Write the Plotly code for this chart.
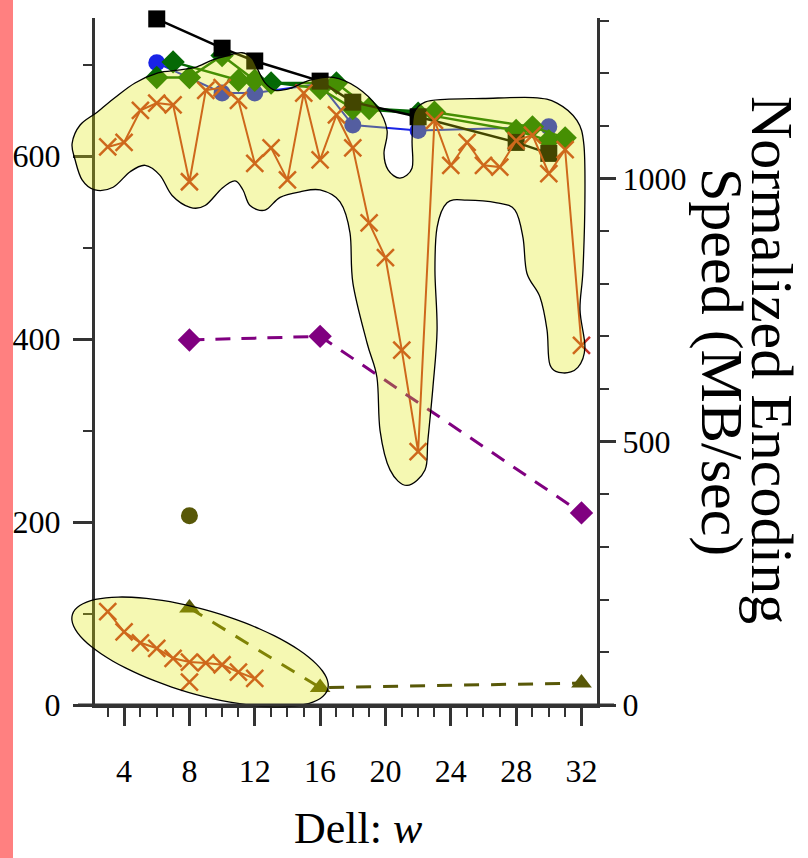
import numpy as np
import plotly.graph_objects as go

# ---------------- data ----------------
black_w = [6, 10, 12, 16, 18, 22, 28, 30]
black_v = [750, 718, 704, 682, 659, 643, 615, 603]

blue_w = [6, 10, 12, 16, 18, 22, 30]
blue_v = [702, 669, 669, 679, 634, 628, 632]

greenA_w = [6, 8, 10, 12, 16, 18, 22, 28, 30]
greenA_v = [686, 686, 710, 683, 674, 652, 647, 628, 617]
greenB_w = [7, 11, 13, 17, 19, 23, 29, 31]
greenB_v = [703, 683, 680, 680, 652, 648, 632, 620]

orange_top_w = list(range(3, 33))
orange_top_v = [610, 615, 650, 658, 656, 572, 672, 675, 661, 592,
                609, 574, 669, 596, 645, 609, 527, 489, 388, 277,
                639, 590, 615, 590, 588, 617, 623, 581, 607, 393]

orange_low_w = [3, 4, 5, 6, 7, 8, 9, 10, 11, 12]
orange_low_v = [102, 80, 68, 62, 51, 47, 46, 44, 36, 29]
orange_extra_w = [8]
orange_extra_v = [25]

purple_w = [8, 16, 32]
purple_v = [399, 403, 210]

olive_circle_w = [8]
olive_circle_v = [207]

olive_tri_w = [8, 16, 32]
olive_tri_v = [106, 19, 24]

x_ticks = [4, 8, 12, 16, 20, 24, 28, 32]

# highlight outlines (data coordinates, left axis)
hl_top_w = [0.82, 1.31, 2.35, 3.45, 4.67, 6.08, 7.30, 8.35, 9.39, 10.36, 11.22, 11.83, 12.2, 12.63,
            13.24, 14.16, 15.38, 16.79, 18.26, 19.48, 20.10, 19.91, 20.16, 20.89, 21.63, 21.63,
            21.75, 22.42, 23.64, 25.97, 29.03, 30.50, 31.72, 32.15, 32.21, 32.09, 31.91, 32.21,
            31.78, 30.87, 30.07, 29.89, 29.46, 28.66, 28.42, 27.93, 26.83, 24.99, 23.77, 23.16,
            23.03, 23.16, 22.91, 22.60, 22.42, 21.32, 20.28, 19.67, 19.48, 18.87, 18.01, 17.83,
            17.22, 16.00, 14.77, 13.55, 12.63, 11.71, 11.28, 10.79, 10.00, 8.96, 8.04, 6.94,
            6.20, 5.29, 4.37, 3.33, 2.22, 1.43, 1.00]
hl_top_v = [614, 634, 648, 664, 680, 691, 694, 697, 705, 710, 713, 707, 694, 680,
            672, 674, 683, 686, 675, 654, 628, 603, 585, 576, 587, 617,
            647, 659, 662, 663, 664, 658, 639, 612, 552, 475, 432, 391,
            369, 363, 372, 410, 446, 472, 511, 541, 549, 552, 549, 522,
            475, 410, 348, 290, 257, 240, 257, 300, 358, 396, 461, 516,
            550, 563, 561, 555, 541, 546, 563, 573, 565, 546, 544, 557,
            579, 590, 583, 566, 563, 574, 596]
hl_ell_center = (8.65, 58)

# ---------------- geometry ----------------
W, H = 808, 858
ML, MR, MT, MB = 95, 211, 18, 153
PW, PH = W - ML - MR, H - MT - MB
X_RANGE = [2.22, 32.95]
Y_RANGE = [0, 751]
Y2_RANGE = [0, 1305]


def to_px(w, v):
    px = ML + (w - X_RANGE[0]) / (X_RANGE[1] - X_RANGE[0]) * PW
    py = MT + PH - (v - Y_RANGE[0]) / (Y_RANGE[1] - Y_RANGE[0]) * PH
    return px, py


def px_to_paper(px, py):
    return (px - ML) / PW, (MT + PH - py) / PH


def smooth_closed_path(pts):
    n = len(pts)
    P = [np.array(p, dtype=float) for p in pts]
    pp = [px_to_paper(*p) for p in P]
    s = "M %.5f,%.5f" % pp[0]
    for i in range(n):
        p0, p1, p2, p3 = P[i - 1], P[i], P[(i + 1) % n], P[(i + 2) % n]
        c1 = p1 + (p2 - p0) / 6.0
        c2 = p2 - (p3 - p1) / 6.0
        a = px_to_paper(*c1)
        b = px_to_paper(*c2)
        c = px_to_paper(*p2)
        s += " C %.5f,%.5f %.5f,%.5f %.5f,%.5f" % (a + b + c)
    return s + " Z"


top_pts = [to_px(w, v) for w, v in zip(hl_top_w, hl_top_v)]
top_path = smooth_closed_path(top_pts)

cx, cy = to_px(*hl_ell_center)
ang = np.deg2rad(16.3)
t = np.linspace(0, 2 * np.pi, 48, endpoint=False)
ea, eb = 133, 42
ell_pts = [(cx + ea * np.cos(tt) * np.cos(ang) - eb * np.sin(tt) * np.sin(ang),
            cy + ea * np.cos(tt) * np.sin(ang) + eb * np.sin(tt) * np.cos(ang)) for tt in t]
ell_path = smooth_closed_path(ell_pts)

# ---------------- styles ----------------
FONT = "Liberation Serif, Times New Roman, serif"
ORANGE = "rgb(200,50,40)"
GREEN = "rgb(5,105,5)"
BLUE = "rgb(25,35,230)"
PURPLE = "rgb(128,0,128)"
OLIVE = "rgb(88,88,8)"
AX = "#333333"
HL_FILL = "rgba(223,232,0,0.30)"

fig = go.Figure()


def line_trace(x, y, color, symbol, size, width=2.5, dash=None, mode="lines+markers"):
    fig.add_trace(go.Scatter(
        x=x, y=y, mode=mode, cliponaxis=False,
        line=dict(color=color, width=width, dash=dash),
        marker=dict(symbol=symbol, size=size, color=color, line=dict(width=0)),
        showlegend=False, hoverinfo="skip"))


line_trace(blue_w, blue_v, BLUE, "circle", 17, width=2)
line_trace(greenB_w, greenB_v, GREEN, "diamond", 18, width=2.5)
line_trace(greenA_w, greenA_v, GREEN, "diamond", 18, width=2.5)
line_trace(black_w, black_v, "black", "square", 17, width=2.5)

for xs, ys, mode in [(orange_top_w, orange_top_v, "lines+markers"),
                     (orange_low_w, orange_low_v, "lines+markers"),
                     (orange_extra_w, orange_extra_v, "markers")]:
    fig.add_trace(go.Scatter(
        x=xs, y=ys, mode=mode, cliponaxis=False,
        line=dict(color=ORANGE, width=2),
        marker=dict(symbol="x-thin", size=17, color=ORANGE, line=dict(width=2.5, color=ORANGE)),
        showlegend=False, hoverinfo="skip"))

line_trace(purple_w, purple_v, PURPLE, "diamond", 18, width=3, dash="15px,11px")
line_trace(olive_tri_w, olive_tri_v, OLIVE, "triangle-up", 18, width=3, dash="15px,12px")
line_trace(olive_circle_w, olive_circle_v, OLIVE, "circle", 17, mode="markers")

# invisible trace so the right axis renders
fig.add_trace(go.Scatter(x=[X_RANGE[0]], y=[0], yaxis="y2", mode="markers",
                         marker=dict(opacity=0), showlegend=False, hoverinfo="skip"))

tickfont = dict(family=FONT, size=32, color="black")

fig.update_layout(
    width=W, height=H,
    margin=dict(l=ML, r=MR, t=MT, b=MB),
    paper_bgcolor="white", plot_bgcolor="white",
    showlegend=False,
    xaxis=dict(range=X_RANGE, tickvals=x_ticks, ticks="outside", ticklen=18, tickwidth=2.5,
               tickcolor=AX, showline=True, linewidth=3, linecolor=AX, showgrid=False,
               zeroline=False, tickfont=tickfont, ticklabelstandoff=18,
               minor=dict(dtick=1, tick0=0, ticks="outside", ticklen=9, tickwidth=2, tickcolor=AX)),
    yaxis=dict(range=Y_RANGE, tick0=0, dtick=200, ticks="outside", ticklen=19, tickwidth=2.5,
               tickcolor=AX, showline=True, linewidth=3, linecolor=AX, showgrid=False,
               zeroline=False, tickfont=tickfont, ticklabelstandoff=6,
               minor=dict(dtick=100, tick0=0, ticks="outside", ticklen=9, tickwidth=2, tickcolor=AX)),
    yaxis2=dict(range=Y2_RANGE, overlaying="y", side="right", tick0=0, dtick=500,
                ticks="outside", ticklen=16, tickwidth=2.5, tickcolor=AX, showline=True,
                linewidth=3, linecolor=AX, showgrid=False, zeroline=False, tickfont=tickfont,
                ticklabelstandoff=0,
                minor=dict(dtick=100, tick0=0, ticks="outside", ticklen=9, tickwidth=2, tickcolor=AX)),
)

shapes = [
    dict(type="path", xref="paper", yref="paper", path=top_path, fillcolor=HL_FILL,
         line=dict(color="black", width=1.3), layer="above"),
    dict(type="path", xref="paper", yref="paper", path=ell_path, fillcolor=HL_FILL,
         line=dict(color="black", width=1.3), layer="above"),
    dict(type="line", xref="paper", yref="paper", x0=(78 - ML) / PW, x1=(614 - ML) / PW,
         y0=0, y1=0, line=dict(color=AX, width=3), layer="above"),
    dict(type="rect", xref="paper", yref="paper", x0=-ML / PW, x1=(13 - ML) / PW,
         y0=(MT + PH - H) / PH, y1=(MT + PH) / PH, fillcolor="rgb(255,128,128)",
         line=dict(width=0), layer="above"),
]
fig.update_layout(shapes=shapes)

fig.add_annotation(text="Dell: <i>w</i>", xref="paper", yref="paper",
                   x=(358 - ML) / PW, y=(MT + PH - 828) / PH, showarrow=False,
                   font=dict(family=FONT, size=44, color="black"), xanchor="center", yanchor="middle")
fig.add_annotation(text="Normalized Encoding", xref="paper", yref="paper",
                   x=(772 - ML) / PW, y=(MT + PH - 360) / PH, textangle=90, showarrow=False,
                   font=dict(family=FONT, size=60, color="black"), xanchor="center", yanchor="middle")
fig.add_annotation(text="Speed (MB/sec)", xref="paper", yref="paper",
                   x=(722 - ML) / PW, y=(MT + PH - 362) / PH, textangle=90, showarrow=False,
                   font=dict(family=FONT, size=60, color="black"), xanchor="center", yanchor="middle")

fig.write_html("out.html")
